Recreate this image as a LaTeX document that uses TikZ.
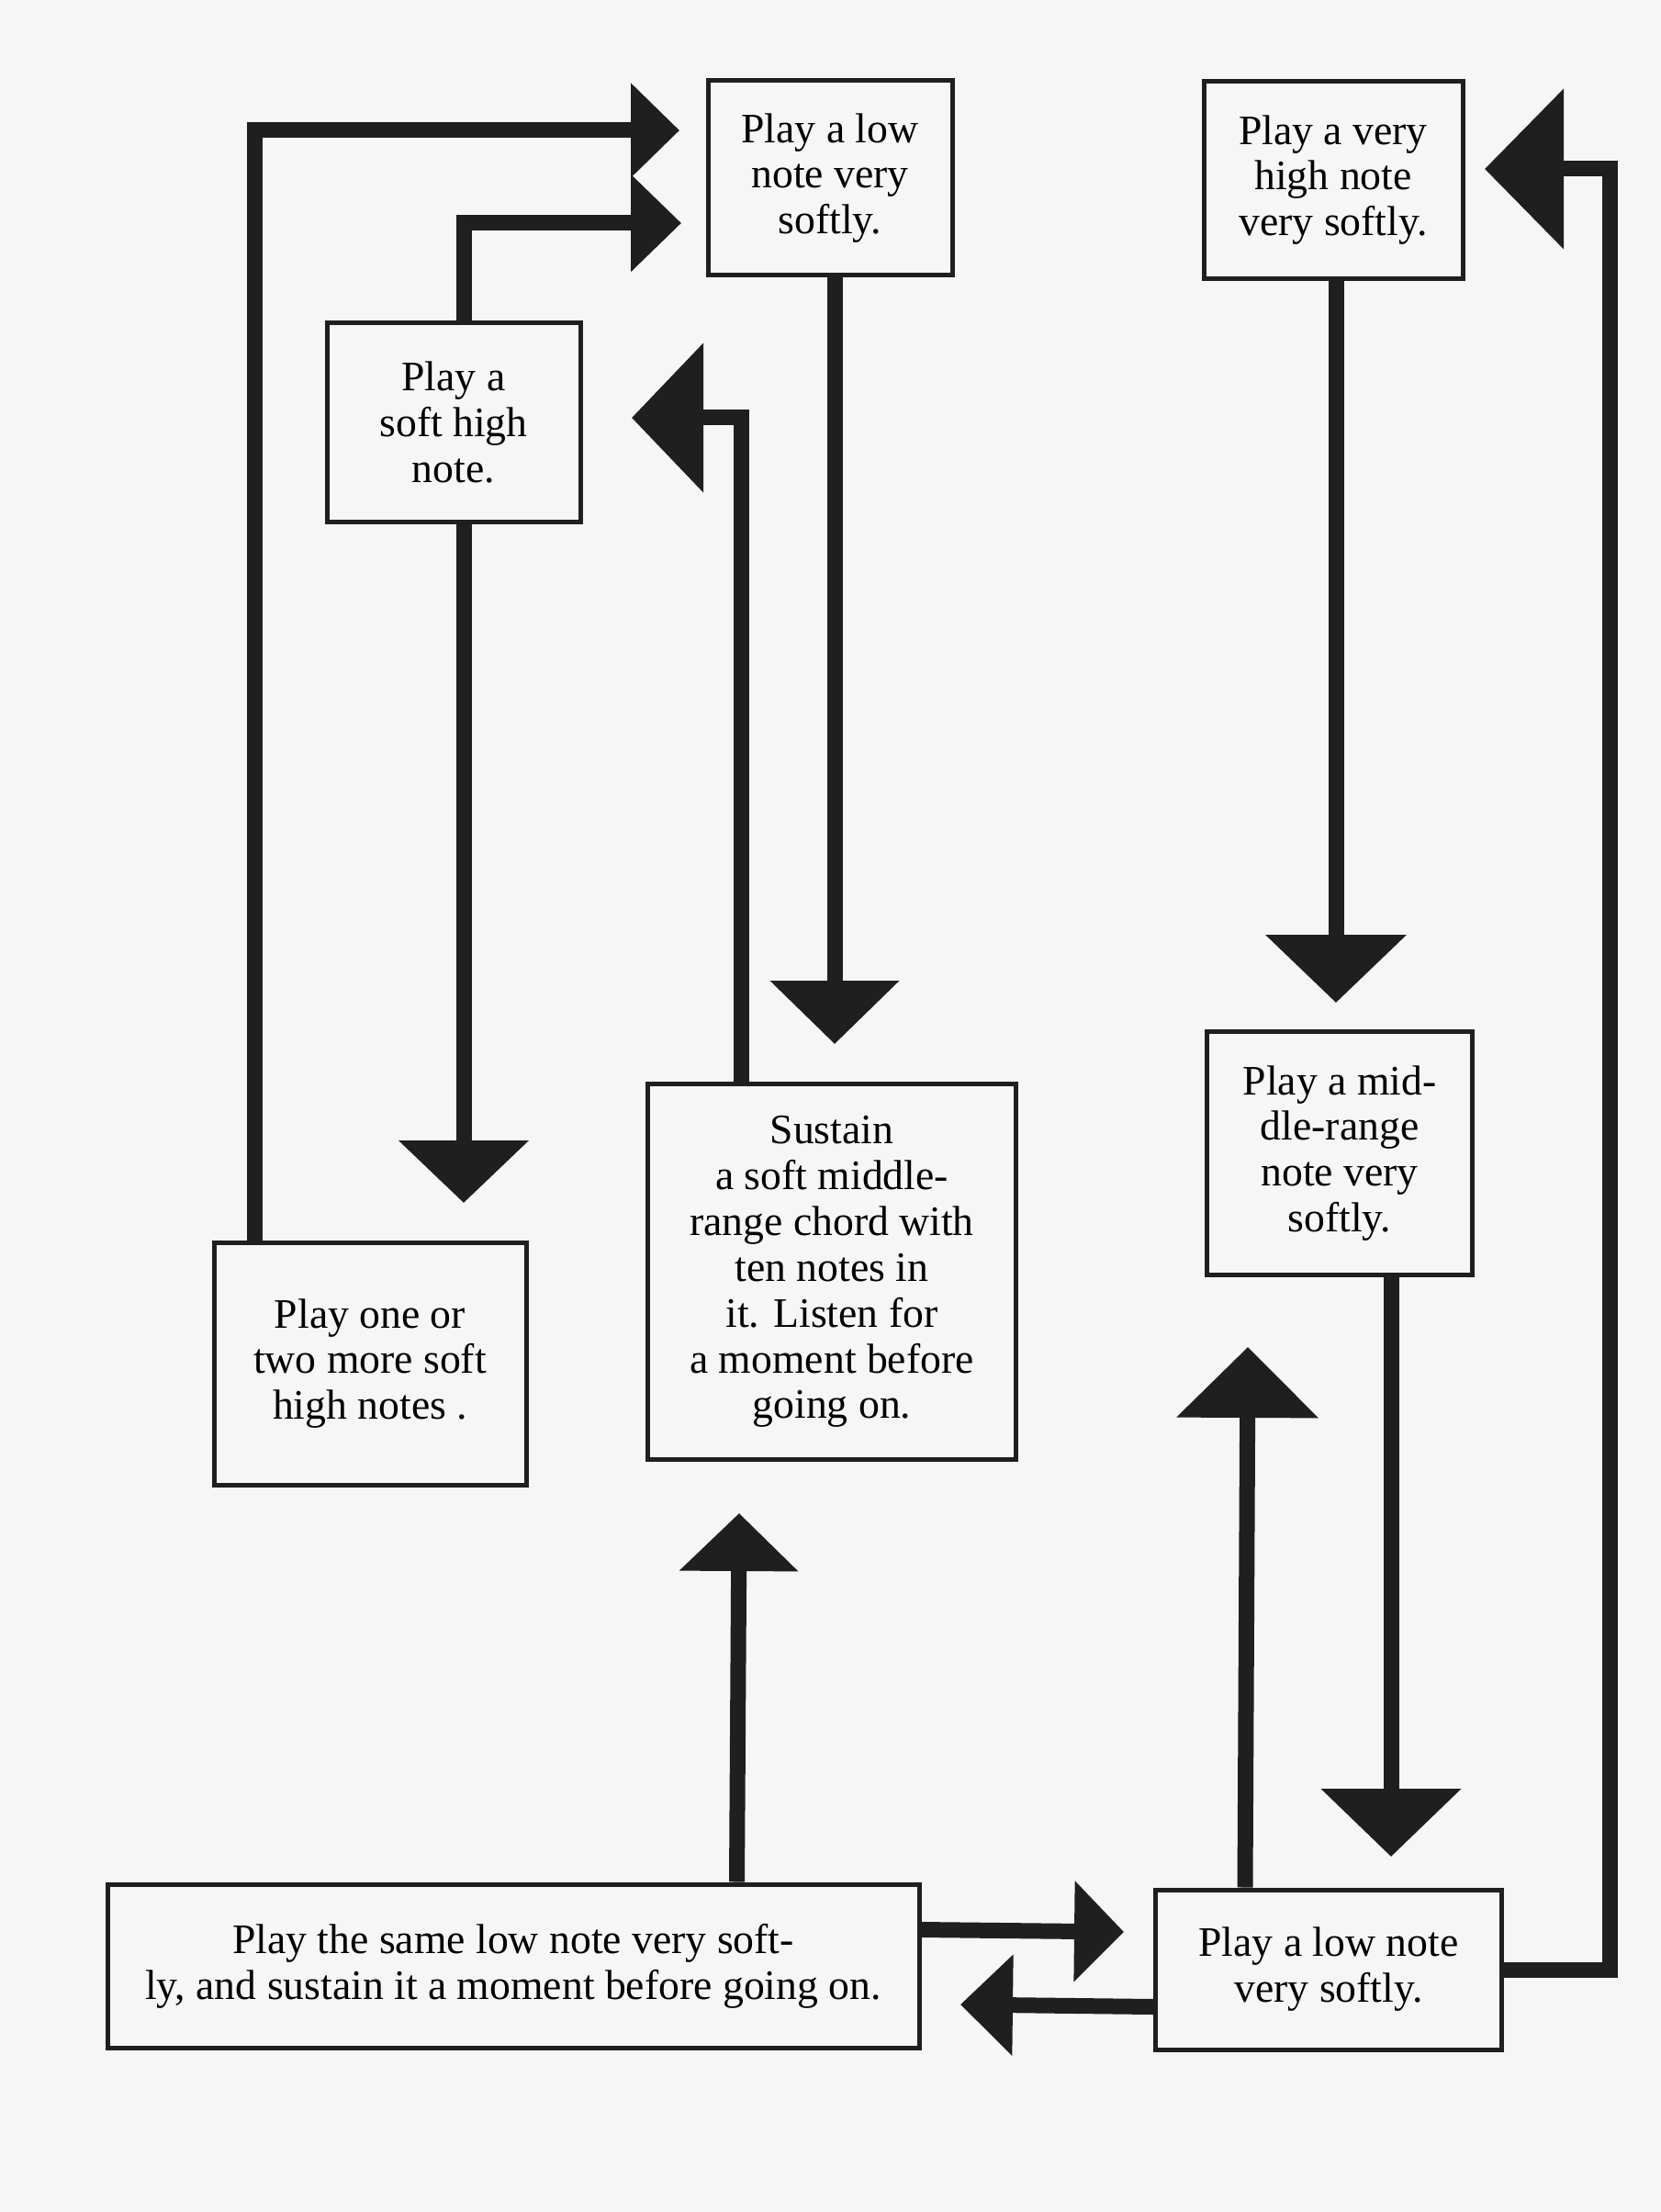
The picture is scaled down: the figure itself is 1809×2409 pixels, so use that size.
\documentclass[tikz,border=0pt]{standalone}
\usepackage{fontspec}
\setmainfont{Liberation Serif}
\usepackage{tikz}
\usetikzlibrary{arrows.meta,calc}
\definecolor{ink}{gray}{0.12}
\definecolor{paper}{gray}{0.965}
\tikzset{>=Triangle,every node/.style={font=\fontsize{13}{14.2}\selectfont},
  box/.style 2 args={draw=ink,line width=.5mm,fill=paper,align=center,inner sep=0pt,minimum width=#1mm,minimum height=#2mm},
  flow/.style 2 args={draw=ink,line width=1.7mm,-{Triangle[length=#1,width=#2]}}}

\begin{document}
\begin{tikzpicture}[x=.1mm,y=-.1mm]
\fill[paper] (0,0) rectangle (1809,2409);\useasboundingbox (0,0) rectangle (1809,2409);
\node[box={26.6}{21.2}] (A) at (904,194) {Play a low\\note very\\softly.};
\node[box={28.2}{21.5}] (B) at (1452,196) {Play a very\\high note\\very softly.};
\node[box={27.6}{21.7}] (C) at (494,460) {Play a\\soft high\\note.};
\node[box={34}{26.4}] (D) at (403,1485) {Play one or\\two more soft\\high notes .};
\node[box={40.1}{40.9}] (E) at (906,1385) {Sustain\\a soft middle-\\range chord with\\ten notes in\\it. Listen for\\a moment before\\going on.};
\node[box={28.9}{26.5}] (F) at (1459,1256) {Play a mid-\\dle-range\\note very\\softly.};
\node[box={37.7}{17.4}] (G) at (1447,2145) {Play a low note\\very softly.};
\node[box={88.4}{17.8}] (H) at (559,2141) {Play the same low note very soft-\\ly, and sustain it a moment before going on.};
\coordinate (a1) at (740,142);\coordinate (a2) at (742,243);\coordinate (cd) at (505,1310);
\coordinate (ae) at (909,1137);\coordinate (el) at (688,455);\coordinate (bf) at (1455,1092);
\coordinate (gb) at (1753,184);\coordinate (gt) at (1617,184);\coordinate (gf) at (1359,1467);
\coordinate (fg) at (1515,2022);\coordinate (hg) at (1224,2104);\coordinate (gh) at (1046,2183);
\coordinate (he) at (805,1648);
\draw[flow={5.3mm}{10mm}] ($(D.north west)+(47,0)$) |- (a1);
\draw[flow={5.5mm}{10.3mm}] ($(C.north)+(11,0)$) |- (a2);
\draw[flow={6.8mm}{13.8mm}] ($(C.south)+(11,0)$) -- (cd);
\draw[flow={6.9mm}{13.7mm}] ($(A.south)+(5,0)$) -- (ae);
\draw[flow={7.8mm}{15.9mm}] ($(E.north west)+(104,0)$) |- (el);
\draw[flow={7.4mm}{15mm}] ($(B.south)+(3,0)$) -- (bf);
\draw[flow={8.6mm}{17.1mm}] (G.east) -| (gb) -- (gt);
\draw[flow={7.7mm}{15.1mm}] ($(G.north west)+(100,0)$) -- (gf);
\draw[flow={7.4mm}{14.9mm}] ($(F.south)+(56,0)$) -- (fg);
\draw[flow={5.4mm}{10.7mm}] ($(H.north east)+(0,52)$) -- (hg);
\draw[flow={5.7mm}{10.7mm}] ($(G.south west)+(0,-49)$) -- (gh);
\draw[flow={6.3mm}{12.6mm}] ($(H.north west)+(688,0)$) -- (he);
\end{tikzpicture}
\end{document}
